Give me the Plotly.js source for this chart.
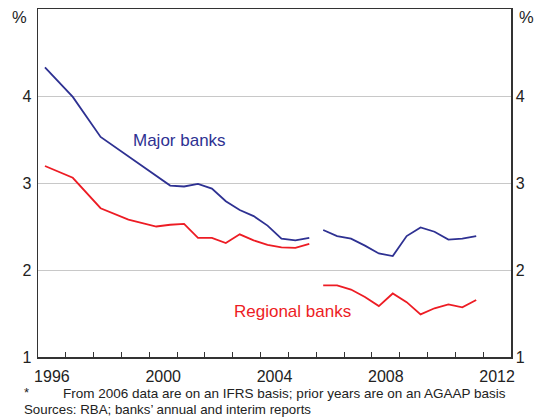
<!DOCTYPE html>
<html>
<head>
<meta charset="utf-8">
<script src="https://cdn.plot.ly/plotly-3.0.1.min.js"></script>
<style>
  html, body { margin: 0; padding: 0; background: #fff; }
  #chart { width: 542px; height: 418px; }
</style>
</head>
<body>
<div id="chart"></div>
<script>
// Period (decimal year); null marks the break between AGAAP and IFRS data
const periods = [1996.25, 1997.25, 1998.25, 1999.25, 2000.25,
  2000.75, 2001.25, 2001.75, 2002.25, 2002.75, 2003.25, 2003.75,
  2004.25, 2004.75, 2005.25, 2005.75, 2006.0,
  2006.25, 2006.75, 2007.25, 2007.75, 2008.25, 2008.75,
  2009.25, 2009.75, 2010.25, 2010.75, 2011.25, 2011.75];

const majorBanks = [4.33, 3.99, 3.53, 3.31, 3.09,
  2.97, 2.96, 2.99, 2.935, 2.79, 2.69, 2.62,
  2.51, 2.36, 2.34, 2.37, null,
  2.46, 2.39, 2.36, 2.28, 2.19, 2.16,
  2.39, 2.49, 2.44, 2.35, 2.36, 2.39];

const regionalBanks = [3.195, 3.06, 2.71, 2.58, 2.50,
  2.52, 2.53, 2.37, 2.37, 2.31, 2.41, 2.34,
  2.29, 2.26, 2.255, 2.30, null,
  1.824, 1.824, 1.775, 1.69, 1.585, 1.73,
  1.63, 1.49, 1.56, 1.605, 1.57, 1.655];

const yearTicks = [1997, 1998, 1999, 2000, 2001, 2002, 2003, 2004, 2005,
  2006, 2007, 2008, 2009, 2010, 2011, 2012];
const yearLabels = ['1996', '2000', '2004', '2008', '2012'];
const yTicks = [1, 2, 3, 4];

const FONT = '"Liberation Sans", Arial, sans-serif';
const BLUE = '#2e3192';
const RED = '#ed1c24';
const AXIS = '#333333';

const labelPos = yearLabels.map(s => Number(s) + 0.5);

const traces = [
  { x: periods, y: majorBanks, type: 'scatter', mode: 'lines',
    line: { color: BLUE, width: 1.8 }, connectgaps: false, hoverinfo: 'skip' },
  { x: periods, y: regionalBanks, type: 'scatter', mode: 'lines',
    line: { color: RED, width: 1.8 }, connectgaps: false, hoverinfo: 'skip' },
  { x: [labelPos[0]], y: [null], xaxis: 'x2', yaxis: 'y', type: 'scatter',
    mode: 'lines', hoverinfo: 'skip' },
  { x: [labelPos[0]], y: [null], xaxis: 'x', yaxis: 'y2', type: 'scatter',
    mode: 'lines', hoverinfo: 'skip' }
];

const layout = {
  width: 542, height: 418,
  margin: { l: 38, r: 31, t: 9, b: 61 },
  paper_bgcolor: '#fff', plot_bgcolor: '#fff',
  showlegend: false,
  font: { family: FONT, size: 16, color: '#222' },
  xaxis: {
    range: [1996, 2013], tickvals: yearTicks, ticks: 'inside', ticklen: 5,
    tickwidth: 1, tickcolor: AXIS, showticklabels: false,
    showline: true, linecolor: AXIS, linewidth: 1.5, mirror: true,
    showgrid: false, zeroline: false, fixedrange: true
  },
  xaxis2: {
    overlaying: 'x', anchor: 'y', side: 'bottom',
    range: [1996, 2013], tickvals: labelPos, ticktext: yearLabels,
    ticks: '', showline: false, showgrid: false, zeroline: false,
    ticklabelstandoff: 8,
    tickfont: { family: FONT, size: 16, color: '#222' }
  },
  yaxis: {
    range: [1, 5], tickvals: yTicks, ticks: '',
    showline: true, linecolor: AXIS, linewidth: 1.5,
    showgrid: true, gridcolor: '#c8c8c8', gridwidth: 1, zeroline: false,
    ticklabelstandoff: 2,
    tickfont: { family: FONT, size: 16, color: '#222' }
  },
  yaxis2: {
    overlaying: 'y', side: 'right', anchor: 'x',
    range: [1, 5], tickvals: yTicks, ticks: '',
    showline: true, linecolor: AXIS, linewidth: 1.5,
    showgrid: false, zeroline: false,
    tickfont: { family: FONT, size: 16, color: '#222' }
  },
  annotations: [
    { text: 'Major banks', x: 2001.09, y: 3.49, xref: 'x', yref: 'y',
      showarrow: false, xanchor: 'center', yanchor: 'middle',
      font: { family: FONT, size: 17, color: BLUE } },
    { text: 'Regional banks', x: 2005.15, y: 1.52, xref: 'x', yref: 'y',
      showarrow: false, xanchor: 'center', yanchor: 'middle',
      font: { family: FONT, size: 17, color: RED } },
    { text: '%', x: 19.5, y: 17, xref: 'paper', yref: 'paper', showarrow: false,
      xanchor: 'center', font: { family: FONT, size: 16.5, color: '#222' } },
    { text: '%', x: 526, y: 17, xref: 'paper', yref: 'paper', showarrow: false,
      xanchor: 'center', font: { family: FONT, size: 16.5, color: '#222' } },
    { text: '*', x: 22, y: 392, xref: 'paper', yref: 'paper', showarrow: false,
      xanchor: 'left', font: { family: FONT, size: 13, color: '#222' } },
    { text: 'From 2006 data are on an IFRS basis; prior years are on an AGAAP basis',
      x: 61, y: 393, xref: 'paper', yref: 'paper', showarrow: false,
      xanchor: 'left', font: { family: FONT, size: 13.5, color: '#222' } },
    { text: 'Sources: RBA; banks\u2019 annual and interim reports',
      x: 22, y: 409, xref: 'paper', yref: 'paper', showarrow: false,
      xanchor: 'left', font: { family: FONT, size: 13.3, color: '#222' } }
  ]
};

// convert pixel positions for paper-referenced annotations
const plotW = 542 - layout.margin.l - layout.margin.r;
const plotH = 418 - layout.margin.t - layout.margin.b;
layout.annotations.forEach(a => {
  if (a.xref === 'paper') {
    a.x = (a.x - layout.margin.l) / plotW;
    a.y = (418 - layout.margin.b - a.y) / plotH;
    a.yanchor = 'middle';
  }
});

Plotly.newPlot('chart', traces, layout, { staticPlot: true, displayModeBar: false });
</script>
</body>
</html>
